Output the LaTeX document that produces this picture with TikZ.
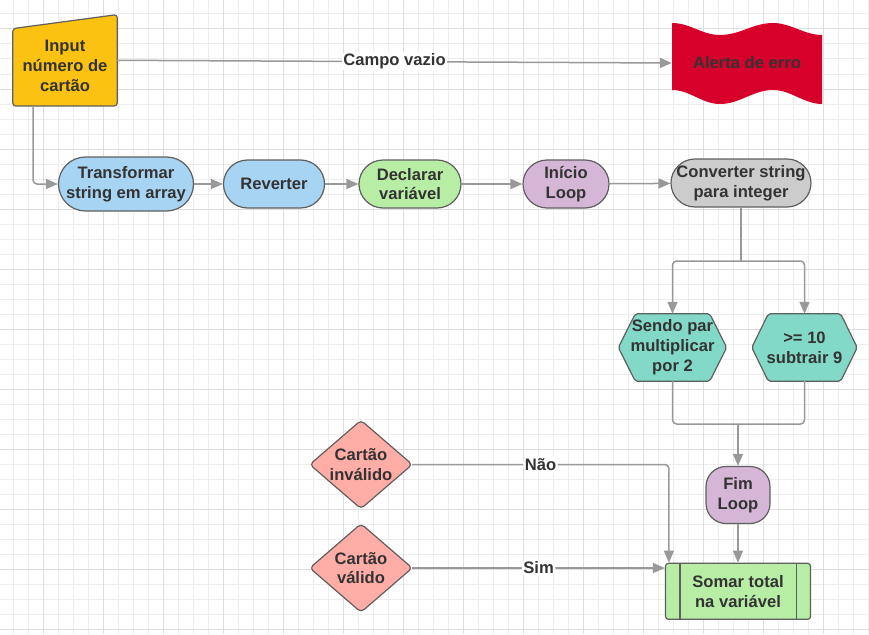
\documentclass[tikz,border=0pt]{standalone}
\usepackage{fontspec}
\setmainfont{Liberation Sans}
\usetikzlibrary{arrows.meta,backgrounds}
\definecolor{txt}{HTML}{333333}
\definecolor{strk}{HTML}{5F5F5F}
\definecolor{connc}{HTML}{999999}
\definecolor{gmin}{HTML}{EDEDED}
\definecolor{gmaj}{HTML}{DEDEDE}
\definecolor{cgold}{RGB}{252,194,18}
\definecolor{cblue}{RGB}{168,212,243}
\definecolor{cgreen}{RGB}{184,237,166}
\definecolor{cpurple}{RGB}{213,182,214}
\definecolor{cgray}{HTML}{CCCCCC}
\definecolor{cteal}{RGB}{131,217,200}
\definecolor{csalmon}{RGB}{255,173,166}
\definecolor{cred}{RGB}{214,0,42}
\begin{document}
\begin{tikzpicture}[x=1pt,y=-1pt,
  lbl/.style={font=\fontsize{16.6}{19.8}\selectfont\bfseries, text=txt, align=center, inner sep=0pt},
  shp/.style={draw=strk, line width=1.2pt},
  term/.style={lbl, shp, rounded corners=#1},
  conn/.style={draw=connc, line width=1.5pt, rounded corners=4pt},
  arr/.style={conn, -{Triangle[length=12pt,width=10pt]}},
  edgelbl/.style={lbl, fill=white, inner sep=1.5pt},
  minorline/.style={draw=gmin, line width=1pt},
  majorline/.style={draw=gmaj, line width=1pt}
]
\useasboundingbox (0,0) rectangle (869,634);

% ---- nodes ----
\node[lbl, minimum width=104pt, minimum height=91pt] (inp) at (65,60.3) {};
\node[lbl] (inptxt) at (65,66) {Input\\número de\\cartão};
\node[lbl, minimum width=150pt, minimum height=81pt] (alert) at (747,63) {Alerta de erro};

\node[term=27pt, fill=cblue, minimum width=135pt, minimum height=54pt] (trans) at (126,184) {Transformar\\string em array};
\node[term=24pt, fill=cblue, minimum width=101pt, minimum height=48pt] (rev) at (274,184) {Reverter};
\node[term=24pt, fill=cgreen, minimum width=102pt, minimum height=48pt] (decl) at (410,184) {Declarar\\variável};
\node[term=24pt, fill=cpurple, minimum width=86pt, minimum height=48pt] (ini) at (566,184) {Início\\Loop};
\node[term=24pt, fill=cgray, minimum width=140pt, minimum height=48pt] (conv) at (741,183) {Converter string\\para integer};

\node[lbl, minimum width=108pt, minimum height=67pt] (hex1) at (672.5,347.5) {Sendo par\\multiplicar\\por 2};
\node[lbl, minimum width=105pt, minimum height=67pt] (hex2) at (804.5,347.5) {>= 10\\subtrair 9};

\node[term=20pt, fill=cpurple, minimum width=64pt, minimum height=57pt] (fim) at (738,495) {Fim\\Loop};
\node[term=3pt, fill=cgreen, minimum width=145pt, minimum height=56pt] (somar) at (738,591.3) {Somar total\\na variável};
\draw[strk, line width=1.2pt] ([xshift=15pt]somar.north west) -- ([xshift=15pt]somar.south west);
\draw[strk, line width=1.2pt] ([xshift=-15pt]somar.north east) -- ([xshift=-15pt]somar.south east);

\node[lbl, minimum width=102pt, minimum height=88pt] (inv) at (361,464.5) {Cartão\\inválido};
\node[lbl, minimum width=102pt, minimum height=88pt] (val) at (361,568) {Cartão\\válido};

% ---- background: grid and drawn shapes ----
\begin{pgfonlayer}{background}
  \fill[white] (0,0) rectangle (869,634);
  \foreach \x in {13,28,...,868} \draw[minorline] (\x,0) -- (\x,634);
  \foreach \y in {14,29,...,633} \draw[minorline] (0,\y) -- (869,\y);
  \foreach \x in {43,103,...,868} \draw[majorline] (\x,0) -- (\x,634);
  \foreach \y in {29,89,...,633} \draw[majorline] (0,\y) -- (869,\y);
  % input (manual input)
  \filldraw[shp, fill=cgold, rounded corners=3pt]
    ([yshift=-14pt]inp.north west) -- (inp.north east) -- (inp.south east) -- (inp.south west) -- cycle;
  % flag
  \fill[cred] (672,23) .. controls (690,23) and (702,35) .. (720,35)
      .. controls (740,35) and (753,23) .. (773,23)
      .. controls (791,23) and (804,35) .. (822,35)
      -- (822,104)
      .. controls (804,104) and (791,90) .. (773,90)
      .. controls (753,90) and (740,104) .. (720,104)
      .. controls (702,104) and (690,90) .. (672,90) -- cycle;
  % hexagons
  \filldraw[shp, fill=cteal, rounded corners=2pt]
    (hex1.west) -- ([xshift=17pt]hex1.north west) -- ([xshift=-17pt]hex1.north east) -- (hex1.east)
    -- ([xshift=-17pt]hex1.south east) -- ([xshift=17pt]hex1.south west) -- cycle;
  \filldraw[shp, fill=cteal, rounded corners=2pt]
    (hex2.west) -- ([xshift=16.5pt]hex2.north west) -- ([xshift=-16.5pt]hex2.north east) -- (hex2.east)
    -- ([xshift=-16.5pt]hex2.south east) -- ([xshift=16.5pt]hex2.south west) -- cycle;
  % diamonds
  \filldraw[shp, fill=csalmon, rounded corners=4pt]
    (inv.west) -- (inv.north) -- (inv.east) -- (inv.south) -- cycle;
  \filldraw[shp, fill=csalmon, rounded corners=4pt]
    (val.west) -- (val.north) -- (val.east) -- (val.south) -- cycle;
\end{pgfonlayer}

% ---- connectors ----
\draw[arr] (inp.east) -- node[edgelbl]{Campo vazio} (alert.west);
\draw[arr] ([xshift=-32pt]inp.south) |- (trans.west);
\draw[arr] (trans) -- (rev);
\draw[arr] (rev) -- (decl);
\draw[arr] (decl) -- (ini);
\draw[arr] (ini) -- (conv);

\coordinate (split) at (741,261);
\draw[conn] (conv.south) -- (split);
\draw[arr] (split) -| (hex1.north);
\draw[arr] (split) -| (hex2.north);

\coordinate (join) at (738,424);
\draw[conn] (hex1.south) |- (join);
\draw[conn] (hex2.south) |- (join);
\draw[arr] (join) -- (fim.north);
\draw[arr] (fim.south) -- (somar.north);

\draw[arr] (inv.east) -| node[pos=0.25, edgelbl]{Não} ([xshift=4pt]somar.north west);
\draw[arr] (val.east) -- node[edgelbl]{Sim} (val.east -| somar.west);
\end{tikzpicture}
\end{document}
